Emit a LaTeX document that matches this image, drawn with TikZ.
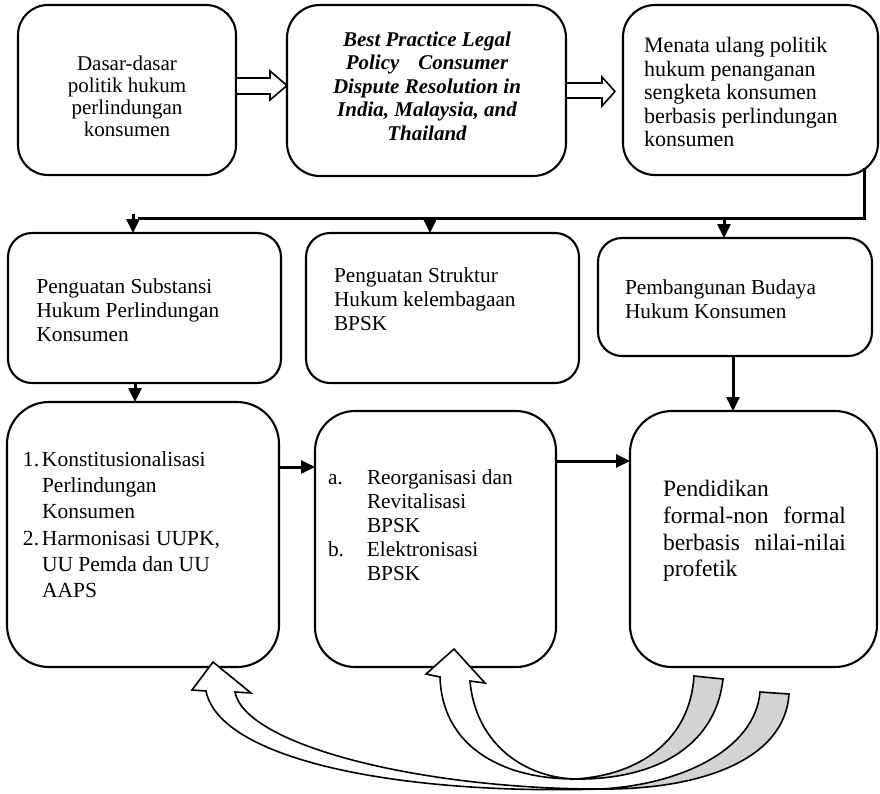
\documentclass[tikz,border=0pt]{standalone}
\usepackage{fontspec}
\setmainfont{Liberation Serif}
\usetikzlibrary{arrows.meta,calc}
\definecolor{tailgray}{RGB}{209,211,212}
\begin{document}
\begin{tikzpicture}[x=1pt,y=-1pt,
  box/.style={draw, line width=2.1pt, anchor=north west, inner sep=0pt, outer sep=0pt},
  txt/.style={inner sep=0pt, outer sep=0pt},
  conn/.style={line width=3pt, -{Triangle[length=14pt,width=13pt]}},
  bus/.style={line width=3pt},
  hollow/.style={draw, line width=1.6pt, fill=white, line join=miter},
  curv/.style={draw, line width=1.6pt, line join=miter}]
\useasboundingbox (0,0) rectangle (880,793);

% boxes
\node[box, minimum width=218pt, minimum height=170pt, rounded corners=30pt] (b1) at (18,5) {};
\node[box, minimum width=279pt, minimum height=171pt, rounded corners=33pt] (b2) at (287,5) {};
\node[box, minimum width=255pt, minimum height=170pt, rounded corners=32pt] (b3) at (623,5) {};
\node[box, minimum width=273pt, minimum height=150pt, rounded corners=24pt] (b4) at (8,233) {};
\node[box, minimum width=273pt, minimum height=150pt, rounded corners=24pt] (b5) at (306,233) {};
\node[box, minimum width=274pt, minimum height=118pt, rounded corners=24pt] (b6) at (598,238) {};
\node[box, minimum width=272pt, minimum height=265pt, rounded corners=42pt] (b7) at (7,402) {};
\node[box, minimum width=241pt, minimum height=256pt, rounded corners=40pt] (b8) at (315,411) {};
\node[box, minimum width=247pt, minimum height=256pt, rounded corners=42pt] (b9) at (630,411) {};

% texts
\node[txt, align=center, font=\fontsize{21}{22}\selectfont] (t1) at (127,96)
  {Dasar-dasar\\politik hukum\\perlindungan\\konsumen};
\node[txt, align=center, font=\bfseries\itshape\fontsize{21}{23.5}\selectfont] (t2) at (427,86)
  {Best Practice Legal\\Policy\hspace{0.9em}Consumer\\Dispute Resolution in\\India, Malaysia, and\\Thailand};
\node[txt, anchor=west, align=left, font=\fontsize{22}{23.5}\selectfont] (t3) at (644,92)
  {Menata ulang politik\\hukum penanganan\\sengketa konsumen\\berbasis perlindungan\\konsumen};
\node[txt, anchor=west, align=left, font=\fontsize{21.3}{24}\selectfont] (t4) at (36.5,310.5)
  {Penguatan Substansi\\Hukum Perlindungan\\Konsumen};
\node[txt, anchor=west, align=left, font=\fontsize{21.3}{24}\selectfont] (t5) at (334,299)
  {Penguatan Struktur\\Hukum kelembagaan\\BPSK};
\node[txt, anchor=west, align=left, font=\fontsize{21.3}{24}\selectfont] (t6) at (625,299)
  {Pembangunan Budaya\\Hukum Konsumen};
\node[txt, anchor=west, align=left, font=\fontsize{21.5}{26.3}\selectfont] (t7) at (23,524.5)
  {\makebox[19pt][l]{1.}Konstitusionalisasi\\\hspace*{19pt}Perlindungan\\\hspace*{19pt}Konsumen\\
   \makebox[19pt][l]{2.}Harmonisasi UUPK,\\\hspace*{19pt}UU Pemda dan UU\\\hspace*{19pt}AAPS};
\node[txt, anchor=west, align=left, font=\fontsize{21.3}{24}\selectfont] (t8) at (328,525.5)
  {\makebox[39pt][l]{a.}Reorganisasi dan\\\hspace*{39pt}Revitalisasi\\\hspace*{39pt}BPSK\\
   \makebox[39pt][l]{b.}Elektronisasi\\\hspace*{39pt}BPSK};
\node[txt, anchor=west, align=left, font=\fontsize{23.5}{26.8}\selectfont] (t9) at (663,531)
  {Pendidikan\\\hbox to 183pt{formal-non\hfill formal}\\\hbox to 183pt{berbasis\hfill nilai-nilai}\\profetik};

% hollow block arrows on top row
\draw[hollow] ($(b1.east)+(0,-12)$) -- ($(b1.east)+(34,-12)$) -- ($(b1.east)+(34,-19)$)
  -- ($(b1.east)+(51,-4.5)$) -- ($(b1.east)+(34,10)$) -- ($(b1.east)+(34,4)$) -- ($(b1.east)+(0,4)$) -- cycle;
\draw[hollow] ($(b2.east)+(0,-7.5)$) -- ($(b2.east)+(36,-7.5)$) -- ($(b2.east)+(36,-13.5)$)
  -- ($(b2.east)+(49,1)$) -- ($(b2.east)+(36,15.5)$) -- ($(b2.east)+(36,7.5)$) -- ($(b2.east)+(0,7.5)$) -- cycle;

% bus
\coordinate (j1) at (864,218);
\coordinate (j0) at (138,218);
\coordinate (s1) at (133,214);
\coordinate (s2) at (430,218);
\coordinate (s3) at (724,218);
\coordinate (s4) at (135,0);
\coordinate (s5) at (733,0);
\coordinate (y6) at (0,467);
\coordinate (y7) at (0,461);
\draw[bus, line join=miter] ($(b3.south -| j1)+(0,-7)$) -- (j1) -- (j0);
\draw[conn] (s1) -- (s1 |- b4.north);
\draw[conn] (s2) -- (s2 |- b5.north);
\draw[conn] (s3) -- (s3 |- b6.north);
\draw[conn] (b4.south -| s4) -- (b7.north -| s4);
\draw[conn] (b6.south -| s5) -- (b9.north -| s5);
\draw[conn] (b7.east |- y6) -- (b8.west |- y6);
\draw[conn] (b8.east |- y7) -- (b9.west |- y7);

% curved block arrows at the bottom
\coordinate (P) at (575,779);
\coordinate (R) at (600,789);
% arrow A (to box 8)
\draw[curv, fill=white] (P) .. controls (500,779) and (442,745) .. (440,677) -- (426,674) -- (454,649)
  -- (485,683) -- (470,681) .. controls (475,740) and (520,777) .. (P) -- cycle;
\draw[curv, fill=tailgray] (694,676) -- (723,679) .. controls (715,750) and (650,780) .. (P)
  .. controls (640,775) and (690,740) .. (694,676) -- cycle;
% arrow B (to box 7)
\draw[curv, fill=white] (R) .. controls (400,795) and (220,760) .. (206,691) -- (192,690) -- (213,662)
  -- (251,693) -- (235,692) .. controls (245,745) and (420,789) .. (R) -- cycle;
\draw[curv, fill=tailgray] (760,692) -- (789,694) .. controls (785,760) and (700,790) .. (R)
  .. controls (680,785) and (755,750) .. (760,692) -- cycle;
\end{tikzpicture}
\end{document}
